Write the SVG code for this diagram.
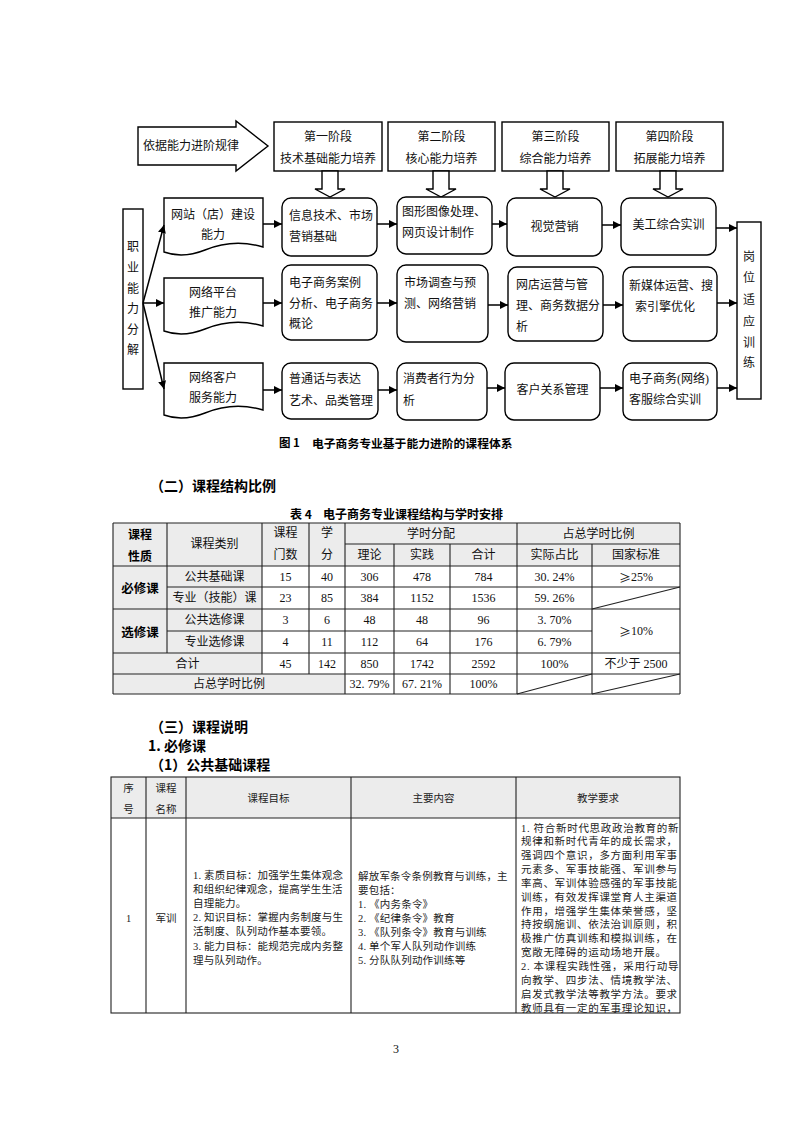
<svg xmlns="http://www.w3.org/2000/svg" width="793" height="1122" viewBox="0 0 793 1122">
<style>
.bx{fill:#fff;stroke:#000;stroke-width:1.4}
.t{font-family:"Liberation Serif","Noto Sans CJK SC",serif;font-size:12px;fill:#111;dominant-baseline:central}
.c{text-anchor:middle}
.hd{font-family:"Noto Sans CJK SC",sans-serif;font-weight:bold;fill:#000;dominant-baseline:central}
.ln{stroke:#000;stroke-width:1.5;fill:none}
.tl{stroke:#222;stroke-width:1.1;fill:none}
.g{fill:#ececec}
.s{font-family:"Liberation Serif","Noto Sans CJK SC",serif;font-size:10.5px;fill:#222;dominant-baseline:central}
.cj{font-family:"Noto Sans CJK SC",sans-serif}
</style>
<defs>
<marker id="ah" viewBox="0 0 10 10" refX="10" refY="5" markerWidth="8" markerHeight="8" markerUnits="userSpaceOnUse" orient="auto"><path d="M0,0 L10,5 L0,10 z" fill="#000"/></marker>
</defs>
<rect width="793" height="1122" fill="#fff"/>

<!-- Figure 1 -->
<g id="rule-arrow">
<polygon class="bx" points="138,127 236,127 236,121 268,146 236,171 236,165 138,165"/>
<text class="t" x="143" y="146">依据能力进阶规律</text>
</g>
<g id="stage1"><rect class="bx" x="274" y="122" width="108" height="49"/><text class="t c" x="328" y="137">第一阶段</text><text class="t c" x="328" y="159">技术基础能力培养</text></g>
<g id="stage2"><rect class="bx" x="388" y="122" width="107" height="49"/><text class="t c" x="441.5" y="137">第二阶段</text><text class="t c" x="441.5" y="159">核心能力培养</text></g>
<g id="stage3"><rect class="bx" x="502" y="122" width="107" height="49"/><text class="t c" x="555.5" y="137">第三阶段</text><text class="t c" x="555.5" y="159">综合能力培养</text></g>
<g id="stage4"><rect class="bx" x="616" y="122" width="107" height="49"/><text class="t c" x="669.5" y="137">第四阶段</text><text class="t c" x="669.5" y="159">拓展能力培养</text></g>

<g id="hollow-arrows">
<polygon class="bx" points="322,171 338,171 338,189 345,189 330,197 315,189 322,189"/>
<polygon class="bx" points="433,171 449,171 449,189 456,189 441,197 426,189 433,189"/>
<polygon class="bx" points="547,171 563,171 563,189 570,189 555,197 540,189 547,189"/>
<polygon class="bx" points="660,171 676,171 676,189 683,189 668,197 653,189 660,189"/>
</g>

<g id="decompose"><rect class="bx" x="123" y="209" width="20" height="180"/>
<text class="t c" x="133" y="247">职</text><text class="t c" x="133" y="268">业</text><text class="t c" x="133" y="289">能</text><text class="t c" x="133" y="309">力</text><text class="t c" x="133" y="330">分</text><text class="t c" x="133" y="350">解</text></g>

<g id="ability1"><path class="bx" d="M164,198 H263 V247 C243,241 222,243 205,250 C190,256 175,256 164,252 Z"/><text class="t c" x="213" y="215">网站（店）建设</text><text class="t c" x="213" y="235">能力</text></g>
<g id="ability2"><path class="bx" d="M164,278 H263 V326 C243,320 222,322 205,329 C190,335 175,335 164,331 Z"/><text class="t c" x="213" y="293">网络平台</text><text class="t c" x="213" y="313">推广能力</text></g>
<g id="ability3"><path class="bx" d="M164,363 H263 V410 C243,404 222,406 205,413 C190,419 175,419 164,415 Z"/><text class="t c" x="213" y="378">网络客户</text><text class="t c" x="213" y="398">服务能力</text></g>

<g id="c11"><rect class="bx" x="282" y="198" width="95" height="58" rx="9"/><text class="t" x="289" y="216">信息技术、市场</text><text class="t" x="289" y="237">营销基础</text></g>
<g id="c12"><rect class="bx" x="397" y="197" width="95" height="57" rx="9"/><text class="t" x="402" y="212">图形图像处理、</text><text class="t" x="402" y="233">网页设计制作</text></g>
<g id="c13"><rect class="bx" x="507" y="198" width="95" height="58" rx="9"/><text class="t c" x="554.5" y="227">视觉营销</text></g>
<g id="c14"><rect class="bx" x="621" y="198" width="95" height="57" rx="9"/><text class="t c" x="668.5" y="225">美工综合实训</text></g>

<g id="c21"><rect class="bx" x="282" y="265" width="95" height="75" rx="9"/><text class="t" x="289" y="283">电子商务案例</text><text class="t" x="289" y="304">分析、电子商务</text><text class="t" x="289" y="324">概论</text></g>
<g id="c22"><rect class="bx" x="397" y="265" width="91" height="77" rx="9"/><text class="t" x="404" y="283">市场调查与预</text><text class="t" x="404" y="304">测、网络营销</text></g>
<g id="c23"><rect class="bx" x="508" y="267" width="95" height="74" rx="9"/><text class="t" x="516" y="285">网店运营与管</text><text class="t" x="516" y="306">理、商务数据分</text><text class="t" x="516" y="327">析</text></g>
<g id="c24"><rect class="bx" x="623" y="267" width="94" height="74" rx="9"/><text class="t" x="629" y="286">新媒体运营、搜</text><text class="t c" x="665" y="307">索引擎优化</text></g>

<g id="c31"><rect class="bx" x="282" y="363" width="96" height="56" rx="9"/><text class="t" x="289" y="379">普通话与表达</text><text class="t" x="289" y="401">艺术、品类管理</text></g>
<g id="c32"><rect class="bx" x="397" y="363" width="90" height="57" rx="9"/><text class="t" x="403" y="379">消费者行为分</text><text class="t" x="403" y="401">析</text></g>
<g id="c33"><rect class="bx" x="505" y="363" width="95" height="57" rx="9"/><text class="t c" x="552.5" y="390">客户关系管理</text></g>
<g id="c34"><rect class="bx" x="623" y="363" width="94" height="57" rx="9"/><text class="t" x="629" y="379">电子商务(网络)</text><text class="t" x="629" y="400">客服综合实训</text></g>

<g id="post"><rect class="bx" x="737" y="222" width="24" height="177"/>
<text class="t c" x="749" y="257">岗</text><text class="t c" x="749" y="278">位</text><text class="t c" x="749" y="300">适</text><text class="t c" x="749" y="322">应</text><text class="t c" x="749" y="343">训</text><text class="t c" x="749" y="363">练</text></g>

<g id="connectors">
<line class="ln" x1="143" y1="303" x2="164" y2="225" marker-end="url(#ah)"/>
<line class="ln" x1="143" y1="303" x2="164" y2="303" marker-end="url(#ah)"/>
<line class="ln" x1="143" y1="303" x2="164" y2="389" marker-end="url(#ah)"/>
<line class="ln" x1="263" y1="224" x2="282" y2="224" marker-end="url(#ah)"/>
<line class="ln" x1="377" y1="224" x2="397" y2="224" marker-end="url(#ah)"/>
<line class="ln" x1="492" y1="224" x2="507" y2="224" marker-end="url(#ah)"/>
<line class="ln" x1="602" y1="225" x2="621" y2="225" marker-end="url(#ah)"/>
<line class="ln" x1="716" y1="228" x2="737" y2="228" marker-end="url(#ah)"/>
<line class="ln" x1="263" y1="303" x2="282" y2="303" marker-end="url(#ah)"/>
<line class="ln" x1="377" y1="303" x2="397" y2="303" marker-end="url(#ah)"/>
<line class="ln" x1="488" y1="305" x2="508" y2="305" marker-end="url(#ah)"/>
<line class="ln" x1="603" y1="305" x2="623" y2="305" marker-end="url(#ah)"/>
<line class="ln" x1="717" y1="303" x2="737" y2="303" marker-end="url(#ah)"/>
<line class="ln" x1="263" y1="390" x2="282" y2="390" marker-end="url(#ah)"/>
<line class="ln" x1="378" y1="390" x2="397" y2="390" marker-end="url(#ah)"/>
<line class="ln" x1="487" y1="388" x2="505" y2="388" marker-end="url(#ah)"/>
<line class="ln" x1="600" y1="388" x2="623" y2="388" marker-end="url(#ah)"/>
<line class="ln" x1="717" y1="388" x2="737" y2="388" marker-end="url(#ah)"/>
</g>

<text class="hd" x="279" y="442" font-size="11.5">图 1</text>
<text class="hd" x="312" y="442" font-size="11.8">电子商务专业基于能力进阶的课程体系</text>

<!-- Section 2 -->
<text class="hd" x="150" y="485" font-size="14">（二）课程结构比例</text>
<text class="hd" x="290" y="513" font-size="12">表 4</text>
<text class="hd" x="323" y="513" font-size="12">电子商务专业课程结构与学时安排</text>

<g id="table4">
<rect x="113" y="523" width="567" height="171" fill="#fff"/>
<rect class="g" x="113" y="523" width="567" height="43"/>
<rect class="g" x="113" y="566" width="149" height="87"/>
<rect class="g" x="113" y="653" width="149" height="21"/>
<rect class="g" x="113" y="674" width="232" height="20"/>
<path class="tl" d="M113,523H680M345,544H680M113,566H680M167,587H680M113,609H680M167,631H592M113,653H680M113,674H680M113,694H680"/>
<path class="tl" d="M113,523V694M167,523V653M262,523V674M309,523V674M345,523V694M394,544V694M450,544V694M517,523V694M592,544V694M680,523V694"/>
<path class="tl" d="M592,609L680,587M517,694L592,674M592,694L680,674"/>
<text class="hd c" x="140" y="533" font-size="12">课程</text>
<text class="hd c" x="140" y="555" font-size="12">性质</text>
<text class="t c" x="214.5" y="544">课程类别</text>
<text class="t c" x="285.5" y="533">课程</text>
<text class="t c" x="285.5" y="555">门数</text>
<text class="t c" x="327" y="533">学</text>
<text class="t c" x="327" y="555">分</text>
<text class="t c" x="431" y="533.5">学时分配</text>
<text class="t c" x="598.5" y="533.5">占总学时比例</text>
<text class="t c" x="369.5" y="555">理论</text>
<text class="t c" x="422" y="555">实践</text>
<text class="t c" x="483.5" y="555">合计</text>
<text class="t c" x="554.5" y="555">实际占比</text>
<text class="t c" x="636" y="555">国家标准</text>

<text class="hd c" x="140" y="587.5" font-size="12.5">必修课</text>
<text class="hd c" x="140" y="631" font-size="12.5">选修课</text>

<text class="t c" x="214.5" y="576.5">公共基础课</text>
<text class="t c" x="285.5" y="576.5">15</text><text class="t c" x="327" y="576.5">40</text><text class="t c" x="369.5" y="576.5">306</text><text class="t c" x="422" y="576.5">478</text><text class="t c" x="483.5" y="576.5">784</text><text class="t c" x="554.5" y="576.5">30. 24%</text><text class="t c" x="636" y="576.5"><tspan class="cj">≥</tspan>25%</text>

<text class="t c" x="214.5" y="598">专业（技能）课</text>
<text class="t c" x="285.5" y="598">23</text><text class="t c" x="327" y="598">85</text><text class="t c" x="369.5" y="598">384</text><text class="t c" x="422" y="598">1152</text><text class="t c" x="483.5" y="598">1536</text><text class="t c" x="554.5" y="598">59. 26%</text>

<text class="t c" x="214.5" y="620">公共选修课</text>
<text class="t c" x="285.5" y="620">3</text><text class="t c" x="327" y="620">6</text><text class="t c" x="369.5" y="620">48</text><text class="t c" x="422" y="620">48</text><text class="t c" x="483.5" y="620">96</text><text class="t c" x="554.5" y="620">3. 70%</text>
<text class="t c" x="636" y="631"><tspan class="cj">≥</tspan>10%</text>

<text class="t c" x="214.5" y="642">专业选修课</text>
<text class="t c" x="285.5" y="642">4</text><text class="t c" x="327" y="642">11</text><text class="t c" x="369.5" y="642">112</text><text class="t c" x="422" y="642">64</text><text class="t c" x="483.5" y="642">176</text><text class="t c" x="554.5" y="642">6. 79%</text>

<text class="t c" x="187.5" y="663.5">合计</text>
<text class="t c" x="285.5" y="663.5">45</text><text class="t c" x="327" y="663.5">142</text><text class="t c" x="369.5" y="663.5">850</text><text class="t c" x="422" y="663.5">1742</text><text class="t c" x="483.5" y="663.5">2592</text><text class="t c" x="554.5" y="663.5">100%</text><text class="t c" x="636" y="663.5">不少于 2500</text>

<text class="t c" x="229" y="684">占总学时比例</text>
<text class="t c" x="369.5" y="684">32. 79%</text><text class="t c" x="422" y="684">67. 21%</text><text class="t c" x="483.5" y="684">100%</text>
</g>

<!-- Section 3 -->
<text class="hd" x="150" y="726" font-size="14">（三）课程说明</text>
<text class="hd" x="148" y="745" font-size="14">1. 必修课</text>
<text class="hd" x="150" y="764" font-size="14">（1）公共基础课程</text>

<g id="table5">
<rect x="111" y="777" width="569" height="236" fill="#fff"/>
<rect class="g" x="111" y="777" width="569" height="41"/>
<rect class="tl" x="111" y="777" width="569" height="236"/>
<path class="tl" d="M111,818H680M146,777V1013M186,777V1013M351,777V1013M516,777V1013"/>
<text class="s c" x="128.5" y="788">序</text>
<text class="s c" x="128.5" y="809">号</text>
<text class="s c" x="166" y="788">课程</text>
<text class="s c" x="166" y="809">名称</text>
<text class="s c" x="268.5" y="798.5">课程目标</text>
<text class="s c" x="433.5" y="798.5">主要内容</text>
<text class="s c" x="598" y="798.5">教学要求</text>
<text class="s c" x="128.5" y="918">1</text>
<text class="s c" x="166" y="918">军训</text>

<g letter-spacing="0.2">
<text class="s" x="193" y="875">1. 素质目标：加强学生集体观念</text>
<text class="s" x="193" y="889.2">和组织纪律观念，提高学生生活</text>
<text class="s" x="193" y="903.4">自理能力。</text>
<text class="s" x="193" y="917.6">2. 知识目标：掌握内务制度与生</text>
<text class="s" x="193" y="931.8">活制度、队列动作基本要领。</text>
<text class="s" x="193" y="946">3. 能力目标：能规范完成内务整</text>
<text class="s" x="193" y="960.2">理与队列动作。</text>
</g>
<g letter-spacing="0.2">
<text class="s" x="358" y="876">解放军条令条例教育与训练，主</text>
<text class="s" x="358" y="890">要包括：</text>
<text class="s" x="358" y="904">1. 《内务条令》</text>
<text class="s" x="358" y="918">2. 《纪律条令》教育</text>
<text class="s" x="358" y="932">3. 《队列条令》教育与训练</text>
<text class="s" x="358" y="946">4. 单个军人队列动作训练</text>
<text class="s" x="358" y="960">5. 分队队列动作训练等</text>
</g>
<g letter-spacing="0.7">
<text class="s" x="521" y="828">1. 符合新时代思政政治教育的新</text>
<text class="s" x="521" y="841.85">规律和新时代青年的成长需求，</text>
<text class="s" x="521" y="855.7">强调四个意识，多方面利用军事</text>
<text class="s" x="521" y="869.55">元素多、军事技能强、军训参与</text>
<text class="s" x="521" y="883.4">率高、军训体验感强的军事技能</text>
<text class="s" x="521" y="897.25">训练，有效发挥课堂育人主渠道</text>
<text class="s" x="521" y="911.1">作用，增强学生集体荣誉感，坚</text>
<text class="s" x="521" y="924.95">持按纲施训、依法治训原则，积</text>
<text class="s" x="521" y="938.8">极推广仿真训练和模拟训练，在</text>
<text class="s" x="521" y="952.65">宽敞无障碍的运动场地开展。</text>
<text class="s" x="521" y="966.5">2. 本课程实践性强，采用行动导</text>
<text class="s" x="521" y="980.35">向教学、四步法、情境教学法、</text>
<text class="s" x="521" y="994.2">启发式教学法等教学方法。要求</text>
<text class="s" x="521" y="1008.05">教师具有一定的军事理论知识，</text>
</g>
</g>

<text class="t c" x="396" y="1049">3</text>
</svg>
